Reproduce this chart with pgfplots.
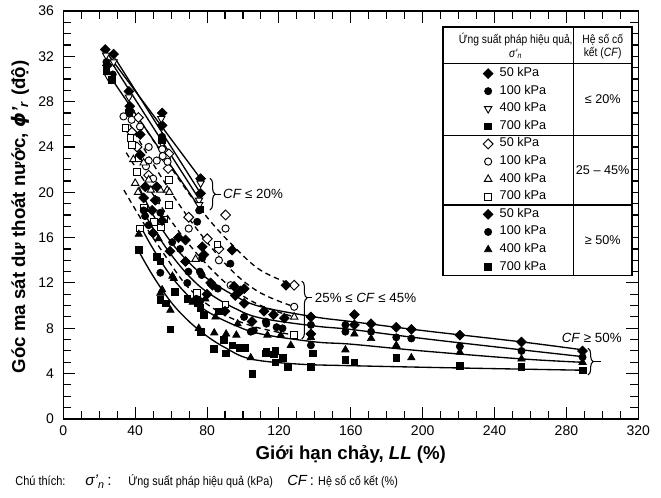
\documentclass[border=0pt]{standalone}
\usepackage{fontspec}
\setmainfont{Liberation Sans}
\newfontfamily\narrowfont{Liberation Sans}[FakeStretch=0.86]
\newfontfamily\dejavu{DejaVu Sans}
\usepackage{pgfplots}
\pgfplotsset{compat=1.18}
\usetikzlibrary{decorations.pathreplacing}
\pgfplotsset{
  mfd/.style={only marks, mark=square*, mark size=2.6pt, mark options={rotate=45, fill=black, draw=black, line width=0.5pt}},
  mod/.style={only marks, mark=square*, mark size=2.6pt, mark options={rotate=45, fill=white, draw=black, line width=0.7pt}},
  mfc/.style={only marks, mark=*, mark size=2.7pt, mark options={fill=black, draw=black, line width=0.5pt}},
  moc/.style={only marks, mark=*, mark size=2.7pt, mark options={fill=white, draw=black, line width=0.7pt}},
  mfs/.style={only marks, mark=square*, mark size=2.5pt, mark options={fill=black, draw=black, line width=0.5pt}},
  mos/.style={only marks, mark=square*, mark size=2.5pt, mark options={fill=white, draw=black, line width=0.7pt}},
  mft/.style={only marks, mark=triangle*, mark size=3.2pt, mark options={fill=black, draw=black, line width=0.5pt}},
  mot/.style={only marks, mark=triangle*, mark size=3.2pt, mark options={fill=white, draw=black, line width=0.7pt}},
  motd/.style={only marks, mark=triangle*, mark size=3.2pt, mark options={rotate=180, fill=white, draw=black, line width=0.7pt}},
  fitline/.style={black, line width=1pt, smooth, tension=0.6, no marks, forget plot},
  fitdash/.style={black, line width=1pt, dash pattern=on 4pt off 3pt, smooth, tension=0.6, no marks, forget plot},
}
\begin{document}
\begin{tikzpicture}
\begin{axis}[
  scale only axis, width=431.25pt, height=306pt,
  xmin=0, xmax=320, ymin=0, ymax=36,
  xtick={0,40,...,320}, ytick={0,4,...,36},
  minor x tick num=3, minor y tick num=3,
  tick align=inside, tick pos=both,
  major tick length=9pt, minor tick length=6pt,
  every tick/.style={black, line width=0.8pt},
  axis line style={line width=1pt},
  clip=false,
  /pgf/number format/assume math mode=true,
  ticklabel style={font=\fontsize{10.5}{12}\selectfont},
  xticklabel style={yshift=-1.2pt},
  yticklabel style={xshift=-3.5pt},
  xlabel={Giới hạn chảy, \textit{LL} (\%)},
  ylabel={Góc ma sát dư thoát nước, {\dejavu\bfseries\itshape ϕ}\textit{'}\textsubscript{\textit{r}} (độ)},
  label style={font=\bfseries\fontsize{14}{16}\selectfont},
  xlabel style={at={(axis description cs:0.5,0)}, anchor=center, yshift=-26.5pt},
  ylabel style={at={(axis description cs:-0.0754,0.495)}, anchor=center},
  legend style={draw=none, fill=none, at={(rel axis cs:0.7304,0.8682)}, anchor=north west,
    inner sep=0pt, outer sep=0pt, row sep=0pt, column sep=5pt,
    font=\fontsize{9.5}{11}\selectfont,
    nodes={inner sep=0pt, text height=8.8pt, text depth=4.4pt}},
  legend cell align=left,
]
% fitted lines, CF <= 20%
\addplot[fitline] coordinates {(23.3,32.5) (76.4,21.2)};
\addplot[fitline] coordinates {(28.9,31.8) (76.4,19.9)};
\addplot[fitline] coordinates {(27.9,31.2) (76.4,19.2)};
\addplot[fitline] coordinates {(26.1,30.2) (76.4,18.5)};
% fitted lines, 25-45%
\addplot[fitdash] coordinates {(38,27.5) (50,24.6) (65,21.0) (80,17.8) (95,15.2) (110,13.1) (128.5,11.8)};
\addplot[fitdash] coordinates {(37,26.0) (50,22.5) (65,18.8) (80,15.6) (95,12.9) (110,11.1) (128.5,9.9)};
\addplot[fitdash] coordinates {(35,23.5) (50,19.8) (65,16.4) (80,13.6) (95,11.4) (110,10.0) (128.5,9.0)};
\addplot[fitdash] coordinates {(33.7,20.2) (45,17.2) (55,14.8) (69,11.7) (85,9.6) (105,8.2) (128.5,7.4)};
% fitted lines, CF >= 50%
\addplot[fitline] coordinates {(42,20.5) (50,18.0) (60,15.6) (70,13.8) (80,12.4) (95,10.9) (110,9.9) (140,9.0) (160,8.6) (200,7.8) (255,6.8) (289,6.1)};
\addplot[fitline] coordinates {(44,18.5) (50,16.8) (60,14.5) (70,12.6) (80,11.2) (95,9.8) (110,8.9) (140,8.2) (160,7.9) (200,7.1) (255,6.1) (289,5.5)};
\addplot[fitline] coordinates {(43,17.0) (50,15.0) (60,12.6) (70,10.8) (80,9.5) (95,8.3) (110,7.5) (140,6.8) (160,6.6) (200,6.0) (255,5.3) (289,5.0)};
\addplot[fitline] coordinates {(42,14.8) (50,12.6) (60,10.3) (70,8.6) (80,7.3) (90,6.3) (104,5.3) (130,4.85) (160,4.7) (220,4.5) (289,4.3)};
% legend table frame
\draw[fill=white, line width=0.8pt] (axis cs:211.3,12.62) rectangle (axis cs:316.5,34.59);
\draw[line width=0.8pt] (axis cs:283.8,12.62) -- (axis cs:283.8,34.59);
\draw[line width=0.8pt] (axis cs:211.3,31.39) -- (axis cs:316.5,31.39);
\draw[line width=0.8pt] (axis cs:211.3,25.0) -- (axis cs:316.5,25.0);
\draw[line width=0.8pt] (axis cs:211.3,18.88) -- (axis cs:316.5,18.88);
\node[font=\narrowfont\fontsize{9}{10}\selectfont] at (axis cs:251.8,33.44) {Ứng suất pháp hiệu quả,};
\node[font=\narrowfont\fontsize{9}{10}\selectfont] at (axis cs:251.8,32.2) {\textit{σ'}\textsubscript{\textit{n}}};
\node[font=\narrowfont\fontsize{9}{10}\selectfont] at (axis cs:300.2,33.44) {Hệ số cố};
\node[font=\narrowfont\fontsize{9}{10}\selectfont] at (axis cs:300.2,32.27) {kết (\textit{CF})};
\node[font=\fontsize{9.5}{11}\selectfont] at (axis cs:300.2,28.2) {≤ 20\%};
\node[font=\fontsize{9.5}{11}\selectfont] at (axis cs:300.2,21.94) {25 – 45\%};
\node[font=\fontsize{9.5}{11}\selectfont] at (axis cs:300.2,15.75) {≥ 50\%};
% braces and labels
\draw[line width=0.8pt, decorate, decoration={brace, amplitude=4pt}] (axis cs:81.6,21.24) -- (axis cs:81.6,18.44);
\draw[line width=0.8pt] (axis cs:81.6,19.84) ++(4pt,0) -- ++(4pt,0) node[right, inner sep=1.5pt, font=\fontsize{10}{12}\selectfont] {\textit{CF} ≤ 20\%};
\draw[line width=0.8pt, decorate, decoration={brace, amplitude=4pt, aspect=0.29}] (axis cs:132.7,12.16) -- (axis cs:132.7,7.06);
\draw[line width=0.8pt] (axis cs:132.7,10.68) ++(4pt,0) -- ++(4pt,0) node[right, inner sep=1.5pt, font=\fontsize{10}{12}\selectfont] {25\% ≤ \textit{CF} ≤ 45\%};
\draw[line width=0.8pt, decorate, decoration={brace, amplitude=4pt}] (axis cs:292.0,6.24) -- (axis cs:292.0,3.88);
\draw[line width=0.8pt] (axis cs:292.0,5.06) ++(4pt,0) -- ++(6pt,0);
\node[font=\fontsize{10}{12}\selectfont] at (axis cs:294.1,7.12) {\textit{CF} ≥ 50\%};
% ---------------- data: CF <= 20% ----------------
\addplot[mfd] coordinates {(23.3,32.6) (28,32.2) (24.5,31.2) (36.5,28.9) (37,27.6) (55,27.0) (55,25.9) (76.4,21.2) (76.4,19.9)};
\addlegendentry{50 kPa}
\addplot[mfc] coordinates {(24,31.5) (27.5,30.4) (36.5,27.2) (55,24.9) (75.6,18.4) (74.5,17.4)};
\addlegendentry{100 kPa}
\addplot[motd] coordinates {(23.8,32.1) (28,31.5) (25,30.2) (36.5,28.4) (37.5,27.0) (54.5,26.5) (55,24.3) (76.4,20.8) (75.5,19.3) (75.6,18.9)};
\addlegendentry{400 kPa}
\addplot[mfs] coordinates {(24,30.7) (27,29.9) (36.5,27.0) (55,24.6) (76.2,18.5)};
\addlegendentry{700 kPa}
% ---------------- data: CF 25-45% ----------------
\addplot[mod] coordinates {(41.8,26.6) (38.2,25.3) (41,24.0) (58.7,23.4) (56.8,23.0) (58.3,22.1) (47.5,21.5) (69.8,17.8) (90.3,18.0) (80.1,15.9) (86.6,15.0) (128.5,11.8)};
\addlegendentry{50 kPa}
\addplot[moc] coordinates {(33.5,26.7) (38,26.4) (42.7,25.8) (47.5,24.0) (55,23.8) (55.3,23.2) (58,22.7) (47.5,22.8) (52,22.8) (46,22.3) (50,21.2) (52,19.3) (69.8,16.8) (90.3,16.8) (86.6,14.0) (93.1,11.8) (128.5,9.9)};
\addlegendentry{100 kPa}
\addplot[mot] coordinates {(44.7,22.6) (39,22.9) (47.5,21.1) (40,20.8) (41.6,20.0) (48.7,20.2) (54,20.2) (57.8,20.2) (59,20.0) (73.6,14.1) (128.5,9.0)};
\addlegendentry{400 kPa}
\addplot[mos] coordinates {(34.5,25.7) (38.2,24.2) (37.3,24.8) (41.9,23.0) (41,21.8) (58.7,21.1) (58.7,18.9) (44.7,18.6) (50.3,17.4) (56,17.6) (42.8,16.8) (54.3,16.9) (74.5,11.1) (90.3,10.1) (85.7,15.4) (128.5,7.4)};
\addlegendentry{700 kPa}
% ---------------- data: CF >= 50% ----------------
\addplot[mfd] coordinates {(42.8,25.1) (42.8,23.3) (45.6,20.5) (52,20.5) (44.7,19.5) (51.2,19.3) (49.4,18.4) (50,16.4) (55,17.5) (59.4,14.8) (64,16.0) (68,15.8) (68,13.9) (77.3,15.2) (78.2,14.5) (94,14.9) (82,12.0) (83,11.8) (95,11.7) (98.5,11.3) (80,11.0) (95.7,10.9) (90,9.5) (105,8.6) (111.7,9.5) (117,9.2) (123,8.9) (100.7,11.5) (100.6,10.2) (123.9,11.8) (137.8,9.0) (137.8,7.5) (162,9.2) (162,8.3) (171.3,8.4) (185.3,8.1) (193.7,7.9) (220.7,7.4) (255,6.8) (289,6.0)};
\addlegendentry{50 kPa}
\addplot[mfc] coordinates {(44.7,18.4) (54,18.2) (45.5,17.9) (47.5,17.1) (60.6,15.6) (65,15.0) (77.3,14.2) (76,13.0) (69,12.0) (54,12.9) (69.6,13.0) (77,12.7) (93,13.7) (74,10.6) (76.2,10.4) (86,11.5) (100.6,9.0) (106,7.8) (113,8.4) (118.7,8.1) (122,8.0) (104.3,7.7) (112.7,8.6) (137.8,8.3) (137.8,6.5) (157,7.7) (157,8.3) (171.3,7.7) (185.3,7.2) (193.7,7.1) (220.7,6.4) (255,6.0) (289,5.45)};
\addlegendentry{100 kPa}
\addplot[mft] coordinates {(42,16.3) (53,15.9) (61.5,12.4) (55,11.4) (60.7,12.6) (54,11.1) (59.6,9.6) (75.4,8.0) (84.7,9.0) (84,7.6) (90.6,7.5) (97,8.4) (96.3,7.4) (104.3,5.4) (113.6,7.4) (121,7.4) (126.6,6.5) (137.8,7.2) (157,6.1) (162,7.5) (171.3,7.1) (185.3,6.5) (193.7,5.4) (220.7,5.9) (255,5.3) (289,5.0) (79,10.6) (72,10.3)};
\addlegendentry{400 kPa}
\addplot[mfs] coordinates {(41.9,14.9) (52,14.3) (54,13.9) (54,10.5) (57,10.2) (62.2,11.2) (69,10.6) (74.5,10.2) (76.2,9.8) (78.2,9.2) (86.5,9.5) (59.6,7.9) (76.4,7.7) (89.4,7.0) (83.8,6.2) (90.3,5.8) (94,6.5) (98,6.3) (101,6.3) (105.2,4.0) (113,5.9) (117,5.7) (118,6.0) (122,5.4) (118,5.0) (124.8,4.6) (112.7,5.8) (138.8,5.8) (137.8,4.6) (157,5.2) (162,5.0) (185.3,5.4) (220.7,4.7) (255,4.6) (289,4.3)};
\addlegendentry{700 kPa}
\end{axis}
\node[anchor=base west, inner sep=0pt, font=\narrowfont\fontsize{9.6}{11}\selectfont] at (-36.2pt,-50pt) {Chú thích:};
\node[anchor=base west, inner sep=0pt, font=\fontsize{11.5}{13}\selectfont] at (16.3pt,-50pt) {\textit{σ'}\textsubscript{\textit{n}}\,:};
\node[anchor=base west, inner sep=0pt, font=\narrowfont\fontsize{9.4}{11}\selectfont] at (48.5pt,-50pt) {Ứng suất pháp hiệu quả (kPa)};
\node[anchor=base west, inner sep=0pt, font=\fontsize{11}{12}\selectfont] at (167.8pt,-50pt) {\textit{CF}\,:};
\node[anchor=base west, inner sep=0pt, font=\narrowfont\fontsize{9.4}{11}\selectfont] at (191pt,-50pt) {Hệ số cố kết (\%)};
\pgfresetboundingbox
\path[use as bounding box] (-47.5pt,-59.25pt) rectangle (448.3pt,314.25pt);
\end{tikzpicture}
\end{document}
